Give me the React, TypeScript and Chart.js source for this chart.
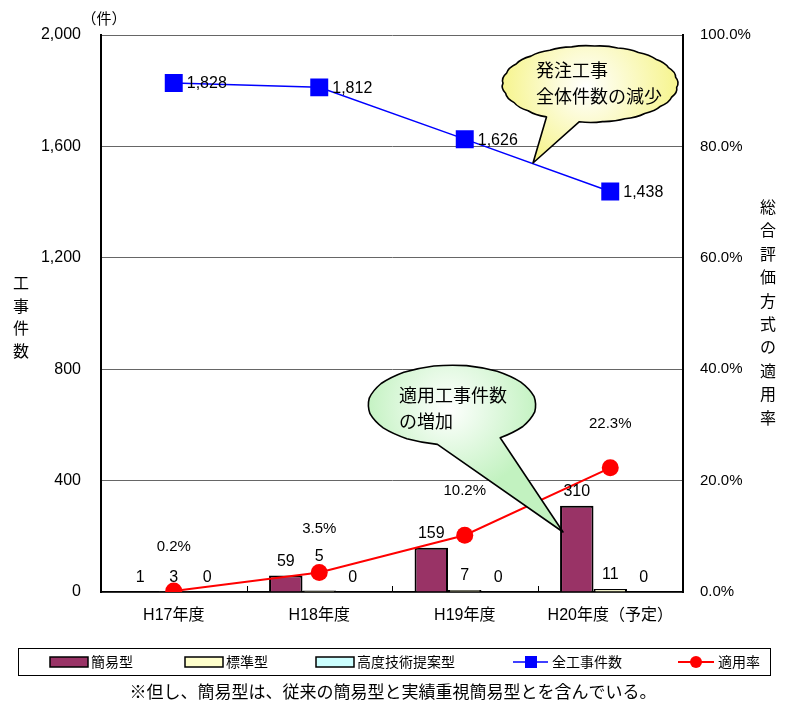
import React, { useEffect, useRef } from "react";
import { Chart, registerables } from "chart.js";

Chart.register(...registerables);

// ---- data ----
const categories = ["H17年度", "H18年度", "H19年度", "H20年度（予定）"];
const simpleType = [1, 59, 159, 310];
const standardType = [3, 5, 7, 11];
const advancedType = [0, 0, 0, 0];
const totalWorks = [1828, 1812, 1626, 1438];
const applicationRate = [0.2, 3.5, 10.2, 22.3];
const leftTicks = [0, 400, 800, 1200, 1600, 2000];
const rightTicks = [0, 20, 40, 60, 80, 100];
const seriesNames = ["簡易型", "標準型", "高度技術提案型", "全工事件数", "適用率"];
const leftTitle = "工事件数";
const rightTitle = "総合評価方式の適用率";
const unitLabel = "（件）";
const noteText = "※但し、簡易型は、従来の簡易型と実績重視簡易型とを含んでいる。";
const calloutTotal = ["発注工事", "全体件数の減少"];
const calloutRate = ["適用工事件数", "の増加"];

const NUM = 'Liberation Sans, "Noto Sans CJK JP", sans-serif';
const JP = '"Noto Sans CJK JP", sans-serif';

const COLORS = {
  simple: "#993366",
  standard: "#ffffcc",
  advanced: "#ccffff",
  total: "#0000ff",
  rate: "#ff0000",
};

function bubblePath(
  ctx: CanvasRenderingContext2D,
  cx: number,
  cy: number,
  rx: number,
  ry: number,
  gapStart: number,
  gapEnd: number,
  tip: [number, number],
  n: number,
  bump: number
) {
  const t0 = gapEnd;
  const t1 = gapStart + Math.PI * 2;
  const pt = (t: number, k: number) => [cx + rx * k * Math.cos(t), cy + ry * k * Math.sin(t)];
  ctx.beginPath();
  const [sx, sy] = pt(t0, 1);
  ctx.moveTo(sx, sy);
  for (let i = 0; i < n; i++) {
    const ta = t0 + ((t1 - t0) * i) / n;
    const tb = t0 + ((t1 - t0) * (i + 1)) / n;
    const [mx, my] = pt((ta + tb) / 2, 1 + bump);
    const [ex, ey] = pt(tb, 1);
    ctx.quadraticCurveTo(mx, my, ex, ey);
  }
  ctx.lineTo(tip[0], tip[1]);
  ctx.closePath();
}

function drawBubble(
  ctx: CanvasRenderingContext2D,
  opts: {
    cx: number; cy: number; rx: number; ry: number;
    gapStart: number; gapEnd: number; tip: [number, number];
    n: number; bump: number; color: string; lines: string[];
    textX: number; textY: number; lineH: number;
  }
) {
  ctx.save();
  bubblePath(ctx, opts.cx, opts.cy, opts.rx, opts.ry, opts.gapStart, opts.gapEnd, opts.tip, opts.n, opts.bump);
  const g = ctx.createRadialGradient(opts.cx - opts.rx * 0.05, opts.cy + opts.ry * 0.1, 0, opts.cx, opts.cy, opts.rx * 1.05);
  g.addColorStop(0, "#ffffff");
  g.addColorStop(1, opts.color);
  ctx.fillStyle = g;
  ctx.fill();
  ctx.lineWidth = 1.6;
  ctx.strokeStyle = "#000";
  ctx.lineJoin = "round";
  ctx.stroke();
  ctx.fillStyle = "#000";
  ctx.font = `18px ${JP}`;
  ctx.textAlign = "left";
  ctx.textBaseline = "middle";
  opts.lines.forEach((l, i) => ctx.fillText(l, opts.textX, opts.textY + i * opts.lineH));
  ctx.restore();
}

const deg = (d: number) => (d * Math.PI) / 180;

const overlayPlugin = {
  id: "overlay",
  afterDatasetsDraw(chart: any) {
    const ctx: CanvasRenderingContext2D = chart.ctx;
    ctx.save();
    ctx.fillStyle = "#000";
    ctx.font = `16px ${NUM}`;
    ctx.textAlign = "center";
    ctx.textBaseline = "middle";
    [0, 1, 2].forEach((di) => {
      const meta = chart.getDatasetMeta(di);
      const vals = chart.data.datasets[di].data as number[];
      meta.data.forEach((el: any, i: number) => {
        const lift = di === 1 && i === 1 ? 34 : 14;
        ctx.fillText(String(vals[i]), el.x, el.y - lift);
      });
    });
    const mt = chart.getDatasetMeta(3);
    ctx.textAlign = "left";
    mt.data.forEach((el: any, i: number) => {
      ctx.fillText(totalWorks[i].toLocaleString("en-US"), el.x + 13, el.y + 1);
    });
    const mr = chart.getDatasetMeta(4);
    ctx.font = `15px ${NUM}`;
    ctx.textAlign = "center";
    mr.data.forEach((el: any, i: number) => {
      ctx.fillText(applicationRate[i].toFixed(1) + "%", el.x, el.y - 44);
    });
    ctx.restore();
  },
  afterDraw(chart: any) {
    const ctx: CanvasRenderingContext2D = chart.ctx;
    const area = chart.chartArea;
    const xs = chart.scales.x;
    ctx.save();
    ctx.strokeStyle = "#000";
    ctx.lineWidth = 1;
    for (let i = 0; i < categories.length - 1; i++) {
      const x = Math.round((xs.getPixelForValue(i) + xs.getPixelForValue(i + 1)) / 2) + 0.5;
      ctx.beginPath();
      ctx.moveTo(x, area.bottom);
      ctx.lineTo(x, area.bottom - 6);
      ctx.stroke();
    }
    ctx.fillStyle = "#000";
    ctx.font = `16px ${JP}`;
    ctx.textAlign = "center";
    ctx.textBaseline = "middle";
    Array.from(leftTitle).forEach((c, i) => ctx.fillText(c, 21, 283 + i * 22.5));
    Array.from(rightTitle).forEach((c, i) => ctx.fillText(c, 768, 207 + i * 23.4));
    ctx.font = `15px ${JP}`;
    ctx.fillText(unitLabel, 104, 18);

    drawBubble(ctx, {
      cx: 590, cy: 84, rx: 87, ry: 38,
      gapStart: deg(97), gapEnd: deg(120), tip: [533, 163],
      n: 22, bump: 0.035, color: "#f6f48a",
      lines: calloutTotal, textX: 536, textY: 70, lineH: 26,
    });
    drawBubble(ctx, {
      cx: 452, cy: 405, rx: 84, ry: 40,
      gapStart: deg(55), gapEnd: deg(100), tip: [563, 532],
      n: 14, bump: 0.01, color: "#c2f2c0",
      lines: calloutRate, textX: 399, textY: 395, lineH: 26,
    });

    ctx.lineWidth = 1;
    ctx.strokeStyle = "#000";
    ctx.strokeRect(18.5, 648.5, 752, 27);
    const ly = 662;
    ctx.font = `14px ${JP}`;
    ctx.textAlign = "left";
    ctx.textBaseline = "middle";
    const swatches: [number, string][] = [
      [50, COLORS.simple],
      [185, COLORS.standard],
      [316, COLORS.advanced],
    ];
    swatches.forEach(([x, col], i) => {
      ctx.fillStyle = col;
      ctx.fillRect(x, ly - 5, 38, 10);
      ctx.lineWidth = 1.5;
      ctx.strokeStyle = "#000";
      ctx.strokeRect(x, ly - 5, 38, 10);
      ctx.fillStyle = "#000";
      ctx.fillText(seriesNames[i], x + 41, ly);
    });
    ctx.strokeStyle = COLORS.total;
    ctx.lineWidth = 1.5;
    ctx.beginPath();
    ctx.moveTo(513, ly);
    ctx.lineTo(548, ly);
    ctx.stroke();
    ctx.fillStyle = COLORS.total;
    ctx.fillRect(525, ly - 6, 12, 12);
    ctx.fillStyle = "#000";
    ctx.fillText(seriesNames[3], 552, ly);
    ctx.strokeStyle = COLORS.rate;
    ctx.lineWidth = 2;
    ctx.beginPath();
    ctx.moveTo(678, ly);
    ctx.lineTo(714, ly);
    ctx.stroke();
    ctx.fillStyle = COLORS.rate;
    ctx.beginPath();
    ctx.arc(696, ly, 6, 0, Math.PI * 2);
    ctx.fill();
    ctx.fillStyle = "#000";
    ctx.fillText(seriesNames[4], 718, ly);

    ctx.font = `17px ${JP}`;
    ctx.textAlign = "center";
    ctx.fillText(noteText, 393, 692);
    ctx.restore();
  },
};

export default function App() {
  const ref = useRef<HTMLCanvasElement | null>(null);
  useEffect(() => {
    if (!ref.current) return;
    const barCommon = {
      type: "bar",
      borderColor: "#000",
      borderWidth: 2,
      yAxisID: "y",
      order: 3,
      barPercentage: 1,
      categoryPercentage: 0.69,
    };
    const chart = new Chart(ref.current, {
      type: "bar",
      data: {
        labels: categories,
        datasets: [
          { ...barCommon, label: seriesNames[0], data: simpleType, backgroundColor: COLORS.simple },
          { ...barCommon, label: seriesNames[1], data: standardType, backgroundColor: COLORS.standard },
          { ...barCommon, label: seriesNames[2], data: advancedType, backgroundColor: COLORS.advanced },
          {
            type: "line",
            label: seriesNames[3],
            data: totalWorks,
            borderColor: COLORS.total,
            backgroundColor: COLORS.total,
            borderWidth: 1.5,
            pointStyle: "rect",
            pointRadius: 12.7,
            pointBorderWidth: 0,
            pointBackgroundColor: COLORS.total,
            tension: 0,
            yAxisID: "y",
            order: 1,
          },
          {
            type: "line",
            label: seriesNames[4],
            data: applicationRate,
            borderColor: COLORS.rate,
            backgroundColor: COLORS.rate,
            borderWidth: 2,
            pointStyle: "circle",
            pointRadius: 8.5,
            pointBorderWidth: 0,
            pointBackgroundColor: COLORS.rate,
            tension: 0,
            yAxisID: "y1",
            order: 0,
          },
        ] as any,
      },
      options: {
        responsive: false,
        animation: false,
        devicePixelRatio: 1,
        layout: { padding: { top: 35, left: 0, right: 0, bottom: 0 } },
        plugins: {
          legend: { display: false },
          tooltip: { enabled: false },
          title: { display: false },
        },
        scales: {
          x: {
            offset: true,
            grid: { display: false, drawTicks: false },
            border: { display: true, color: "#000", width: 1.5 },
            ticks: { color: "#000", font: { size: 16, family: NUM }, padding: 14 },
            afterFit: (s: any) => {
              s.height = 113;
            },
          },
          y: {
            position: "left",
            min: 0,
            max: 2000,
            afterBuildTicks: (s: any) => {
              s.ticks = leftTicks.map((v) => ({ value: v }));
            },
            ticks: {
              color: "#000",
              font: { size: 16, family: NUM },
              padding: 20,
              callback: (v: any) => Number(v).toLocaleString("en-US"),
            },
            grid: { color: "#666", lineWidth: 1, drawTicks: false },
            border: { display: true, color: "#000", width: 2 },
            afterFit: (s: any) => {
              s.width = 101;
            },
          },
          y1: {
            position: "right",
            min: 0,
            max: 100,
            afterBuildTicks: (s: any) => {
              s.ticks = rightTicks.map((v) => ({ value: v }));
            },
            ticks: {
              color: "#000",
              font: { size: 15, family: NUM },
              padding: 17,
              callback: (v: any) => Number(v).toFixed(1) + "%",
            },
            grid: { drawOnChartArea: false, drawTicks: false },
            border: { display: true, color: "#000", width: 2 },
            afterFit: (s: any) => {
              s.width = 103;
            },
          },
        },
      } as any,
      plugins: [overlayPlugin],
    });
    return () => chart.destroy();
  }, []);
  return (
    <div style={{ position: "absolute", left: 0, top: 0, width: 786, height: 705, background: "#fff" }}>
      <canvas ref={ref} width={786} height={705} style={{ display: "block" }} />
    </div>
  );
}
